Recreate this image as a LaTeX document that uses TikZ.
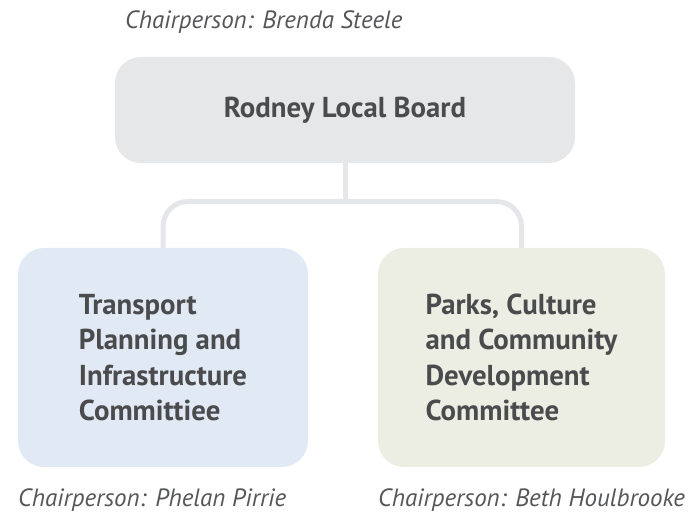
\documentclass[tikz,border=0pt]{standalone}
\usepackage{fontspec}
\setmainfont{PT Sans}
\begin{document}
\definecolor{topfill}{HTML}{E6E7E9}
\definecolor{leftfill}{HTML}{E1E9F4}
\definecolor{rightfill}{HTML}{ECEDE3}
\definecolor{linecol}{HTML}{E4E6EA}
\definecolor{txt}{HTML}{4A4B4D}
\definecolor{chairtxt}{HTML}{555658}
\begin{tikzpicture}[x=1pt,y=1pt,
  box/.style={rounded corners=26pt, inner sep=0pt, align=left, text=txt,
    font=\fontsize{28.8}{35.5}\selectfont\bfseries},
  chair/.style={anchor=west, inner sep=0pt, text=chairtxt,
    font=\fontsize{25}{28}\selectfont\itshape},
  conn/.style={draw=linecol, line width=5pt, rounded corners=25pt}]
\useasboundingbox (0,0) rectangle (694,-518);
\node[box, fill=topfill, minimum width=460pt, minimum height=106pt] (top) at (345,-110) {Rodney Local Board};
\node[box, fill=leftfill, minimum width=290pt, minimum height=219pt] (left) at (163,-357.5) {Transport\\Planning and\\Infrastructure\\Committiee};
\node[box, fill=rightfill, minimum width=287pt, minimum height=219pt] (right) at (521.5,-357.5) {Parks, Culture\\and Community\\Development\\Committee};
\coordinate (bus) at (345,-201.5);
\draw[conn] (top.south) -- (bus);
\draw[conn] (left.north) -- (left.north |- bus) -- (right.north |- bus) -- (right.north);
\node[chair] (ctop) at (125,-22) {Chairperson: Brenda Steele};
\node[chair] (cleft) at (18,-500) {Chairperson: Phelan Pirrie};
\node[chair] (cright) at (378,-500) {Chairperson: Beth Houlbrooke};
\end{tikzpicture}
\end{document}
